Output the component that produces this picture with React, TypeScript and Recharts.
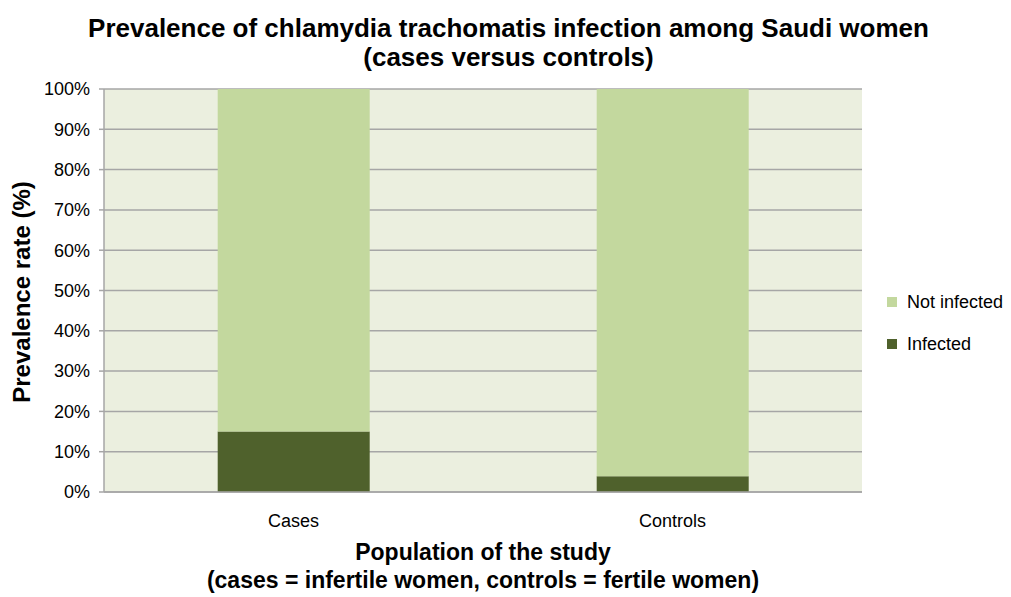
import React from "react";
import { BarChart, Bar, XAxis, YAxis, CartesianGrid } from "recharts";

const categories = ["Cases", "Controls"];
const infected = [15, 3.9];
const notInfected = [85, 96.1];
const yTicks = [0, 10, 20, 30, 40, 50, 60, 70, 80, 90, 100];

const data = categories.map((c, i) => ({
  name: c,
  infected: infected[i],
  notInfected: notInfected[i],
}));

const FONT = "'Liberation Sans', Arial, sans-serif";
const DARK = "#4f612c";
const LIGHT = "#c3d89e";

export default function App() {
  return (
    <div style={{ position: "absolute", left: 0, top: 0, width: 1011, height: 597, background: "#fff", fontFamily: FONT }}>
      <div style={{ position: "absolute", left: 0, top: 14, width: 1011, textAlign: "center", fontWeight: "bold", fontSize: 26, lineHeight: "29px", color: "#000", paddingLeft: 6, boxSizing: "border-box" }}>
        Prevalence of chlamydia trachomatis infection among Saudi women
        <br />
        (cases versus controls)
      </div>
      <BarChart
        width={1011}
        height={597}
        data={data}
        margin={{ top: 89, right: 149, bottom: 75, left: 44 }}
        barCategoryGap="30%"
      >
        <CartesianGrid vertical={false} stroke="#a6a6a6" strokeWidth={1.5} fill="#ebefdf" />
        <XAxis
          dataKey="name"
          height={30}
          axisLine={{ stroke: "#a6a6a6", strokeWidth: 1.5 }}
          tickLine={false}
          tickMargin={16}
          tick={{ fill: "#000", fontSize: 18, fontFamily: FONT }}
        />
        <YAxis
          width={60}
          domain={[0, 100]}
          ticks={yTicks}
          interval={0}
          tickFormatter={(v) => `${v}%`}
          axisLine={{ stroke: "#a6a6a6", strokeWidth: 1.5 }}
          tickLine={{ stroke: "#a6a6a6", strokeWidth: 1.5 }}
          tickSize={5}
          tickMargin={9}
          tick={{ fill: "#000", fontSize: 18, fontFamily: FONT }}
        />
        <Bar dataKey="infected" stackId="a" fill={DARK} isAnimationActive={false} />
        <Bar dataKey="notInfected" stackId="a" fill={LIGHT} isAnimationActive={false} />
      </BarChart>
      <div style={{ position: "absolute", left: 887, top: 291, fontSize: 18, color: "#000" }}>
        <div style={{ display: "flex", alignItems: "center", height: 22 }}>
          <span style={{ display: "inline-block", width: 10, height: 10, background: LIGHT, marginRight: 10 }} />
          Not infected
        </div>
        <div style={{ display: "flex", alignItems: "center", height: 22, marginTop: 20 }}>
          <span style={{ display: "inline-block", width: 10, height: 10, background: DARK, marginRight: 10 }} />
          Infected
        </div>
      </div>
      <div style={{ position: "absolute", left: 22, top: 292, width: 0, height: 0 }}>
        <div style={{ position: "absolute", left: 0, top: 0, transform: "translate(-50%, -50%) rotate(-90deg)", whiteSpace: "nowrap", fontWeight: "bold", fontSize: 24, color: "#000" }}>
          Prevalence rate (%)
        </div>
      </div>
      <div style={{ position: "absolute", left: 104, top: 538, width: 758, textAlign: "center", fontWeight: "bold", fontSize: 23, lineHeight: "28px", color: "#000" }}>
        Population of the study
        <br />
        (cases = infertile women, controls = fertile women)
      </div>
    </div>
  );
}
